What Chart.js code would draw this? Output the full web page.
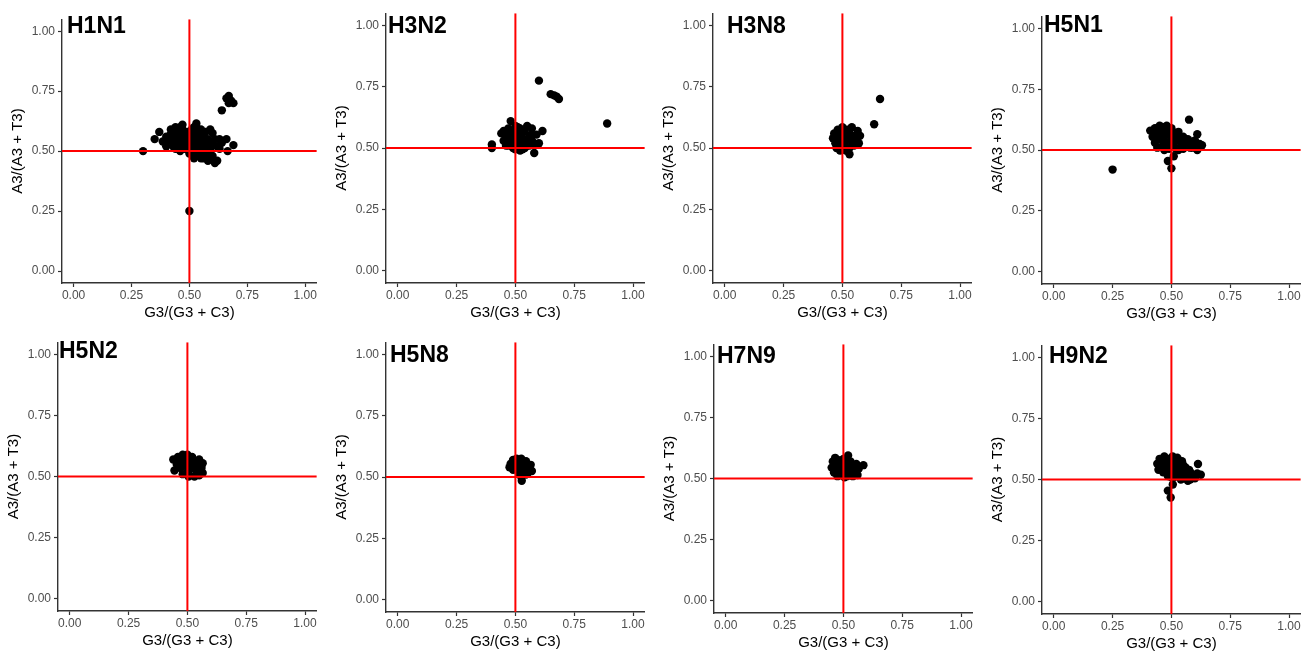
<!DOCTYPE html>
<html>
<head>
<meta charset="utf-8">
<script src="https://cdn.jsdelivr.net/npm/chart.js@4.4.0/dist/chart.umd.min.js"></script>
<style>
  body { margin: 0; background: #fff; width: 1314px; height: 653px; position: relative; overflow: hidden; }
  canvas { position: absolute; }
</style>
</head>
<body>
<script>
const subtypes = ['H1N1', 'H3N2', 'H3N8', 'H5N1', 'H5N2', 'H5N8', 'H7N9', 'H9N2'];

// [G3/(G3+C3), A3/(A3+T3)]
const h1n1 = [
  [0.30,0.50],[0.35,0.55],[0.37,0.58],[0.385,0.54],[0.40,0.52],[0.40,0.56],[0.41,0.545],[0.42,0.57],
  [0.43,0.54],[0.43,0.565],[0.44,0.58],[0.44,0.51],[0.45,0.55],[0.45,0.52],[0.46,0.60],[0.46,0.50],
  [0.47,0.57],[0.47,0.53],[0.48,0.55],[0.48,0.51],[0.49,0.58],[0.49,0.54],[0.50,0.56],[0.50,0.52],
  [0.50,0.49],[0.51,0.59],[0.51,0.54],[0.52,0.50],[0.52,0.57],[0.52,0.47],[0.53,0.60],[0.53,0.55],
  [0.53,0.52],[0.54,0.48],[0.54,0.57],[0.55,0.53],[0.55,0.50],[0.55,0.59],[0.56,0.56],[0.56,0.47],
  [0.57,0.52],[0.57,0.49],[0.57,0.58],[0.58,0.55],[0.58,0.46],[0.59,0.51],[0.59,0.59],[0.60,0.53],
  [0.60,0.48],[0.61,0.45],[0.62,0.52],[0.62,0.46],[0.63,0.55],[0.66,0.55],[0.69,0.525],[0.665,0.50],
  [0.42,0.59],[0.44,0.60],[0.46,0.565],[0.47,0.59],[0.48,0.53],[0.49,0.56],[0.49,0.51],[0.51,0.57],
  [0.51,0.50],[0.52,0.54],[0.52,0.60],[0.53,0.58],[0.54,0.51],[0.54,0.55],[0.55,0.47],[0.56,0.51],
  [0.56,0.58],[0.57,0.55],[0.58,0.52],[0.58,0.49],[0.59,0.47],[0.61,0.55],[0.60,0.575],[0.47,0.61],
  [0.53,0.615],[0.64,0.535],[0.63,0.51],[0.43,0.52],[0.45,0.585],[0.41,0.56],
  [0.50,0.25],[0.64,0.67],[0.66,0.72],[0.67,0.73],[0.68,0.71],[0.69,0.70],[0.67,0.70]
];
const h3n2 = [
  [0.40,0.515],[0.40,0.50],[0.44,0.56],[0.45,0.53],[0.45,0.57],[0.46,0.54],[0.46,0.51],[0.47,0.58],
  [0.47,0.55],[0.47,0.51],[0.48,0.52],[0.48,0.61],[0.49,0.57],[0.49,0.50],[0.50,0.54],[0.50,0.59],
  [0.50,0.495],[0.51,0.52],[0.51,0.56],[0.52,0.49],[0.52,0.58],[0.53,0.54],[0.53,0.51],[0.53,0.495],
  [0.54,0.57],[0.54,0.50],[0.55,0.53],[0.55,0.59],[0.56,0.55],[0.56,0.51],[0.57,0.58],[0.57,0.53],
  [0.58,0.52],[0.58,0.48],[0.59,0.555],[0.60,0.52],[0.615,0.57],
  [0.46,0.565],[0.48,0.545],[0.49,0.525],[0.51,0.585],[0.52,0.55],[0.54,0.535],[0.55,0.51],[0.57,0.555],
  [0.60,0.775],[0.65,0.72],[0.665,0.715],[0.675,0.71],[0.685,0.70],[0.89,0.60]
];
const h3n8 = [
  [0.46,0.54],[0.465,0.56],[0.47,0.52],[0.475,0.50],[0.48,0.575],[0.48,0.545],[0.49,0.51],[0.49,0.56],
  [0.49,0.49],[0.50,0.585],[0.50,0.53],[0.50,0.50],[0.51,0.555],[0.51,0.515],[0.515,0.49],[0.52,0.575],
  [0.52,0.54],[0.53,0.50],[0.53,0.56],[0.53,0.475],[0.54,0.525],[0.54,0.585],[0.55,0.55],[0.55,0.51],
  [0.56,0.535],[0.565,0.57],[0.57,0.52],[0.575,0.55],
  [0.635,0.597],[0.66,0.70]
];
const h5n1 = [
  [0.41,0.58],[0.42,0.555],[0.43,0.59],[0.43,0.53],[0.44,0.57],[0.44,0.51],[0.45,0.545],[0.45,0.60],
  [0.46,0.515],[0.46,0.58],[0.47,0.555],[0.47,0.50],[0.48,0.60],[0.48,0.53],[0.49,0.57],[0.49,0.505],
  [0.50,0.55],[0.50,0.59],[0.51,0.52],[0.51,0.57],[0.52,0.545],[0.52,0.505],[0.53,0.575],[0.53,0.50],
  [0.54,0.53],[0.55,0.555],[0.55,0.505],[0.56,0.52],[0.57,0.545],[0.58,0.51],[0.59,0.535],[0.60,0.52],
  [0.61,0.50],[0.61,0.565],[0.62,0.525],[0.63,0.52],
  [0.425,0.575],[0.44,0.59],[0.455,0.565],[0.465,0.535],[0.475,0.58],[0.495,0.53],[0.505,0.575],[0.515,0.545],
  [0.535,0.555],[0.545,0.51],[0.565,0.535],[0.575,0.52],[0.59,0.51],[0.60,0.54],[0.46,0.595],
  [0.25,0.42],[0.575,0.625],[0.485,0.455],[0.50,0.425],[0.51,0.475]
];
const h5n2 = [
  [0.44,0.57],[0.445,0.525],[0.455,0.55],[0.46,0.58],[0.47,0.535],[0.47,0.56],[0.48,0.59],[0.48,0.51],
  [0.49,0.545],[0.49,0.575],[0.495,0.56],[0.50,0.52],[0.50,0.59],[0.505,0.50],[0.51,0.555],[0.51,0.505],
  [0.52,0.58],[0.52,0.535],[0.53,0.50],[0.53,0.56],[0.54,0.545],[0.54,0.52],[0.55,0.57],[0.55,0.505],
  [0.56,0.535],[0.565,0.555],[0.565,0.515]
];
const h5n8 = [
  [0.475,0.54],[0.48,0.555],[0.49,0.57],[0.49,0.53],[0.50,0.555],[0.505,0.575],[0.51,0.535],[0.515,0.515],
  [0.52,0.56],[0.525,0.575],[0.53,0.54],[0.53,0.52],[0.535,0.555],[0.54,0.53],[0.545,0.565],[0.55,0.545],
  [0.555,0.52],[0.56,0.535],[0.565,0.55],[0.57,0.525],[0.525,0.50],[0.527,0.485],[0.545,0.51]
];
const h7n9 = [
  [0.45,0.545],[0.455,0.57],[0.46,0.525],[0.465,0.585],[0.47,0.555],[0.475,0.51],[0.48,0.535],[0.48,0.575],
  [0.49,0.515],[0.49,0.55],[0.50,0.58],[0.50,0.53],[0.505,0.505],[0.51,0.56],[0.515,0.51],[0.52,0.595],
  [0.52,0.545],[0.53,0.525],[0.53,0.57],[0.54,0.55],[0.54,0.51],[0.55,0.535],[0.555,0.56],[0.56,0.515],
  [0.565,0.54],[0.585,0.555]
];
const h9n2 = [
  [0.44,0.565],[0.445,0.54],[0.45,0.585],[0.46,0.555],[0.465,0.53],[0.47,0.595],[0.475,0.57],[0.48,0.545],
  [0.485,0.515],[0.49,0.585],[0.495,0.56],[0.50,0.535],[0.50,0.51],[0.505,0.595],[0.51,0.51],[0.515,0.57],
  [0.52,0.545],[0.525,0.59],[0.53,0.52],[0.535,0.56],[0.545,0.575],[0.545,0.535],[0.54,0.50],[0.55,0.505],
  [0.56,0.55],[0.565,0.52],[0.575,0.54],[0.57,0.495],[0.58,0.50],[0.59,0.52],[0.60,0.505],[0.61,0.525],
  [0.455,0.57],[0.47,0.545],[0.485,0.575],[0.49,0.535],[0.505,0.555],[0.52,0.52],[0.525,0.565],[0.535,0.545],
  [0.55,0.56],[0.555,0.53],[0.58,0.53],[0.595,0.51],[0.53,0.58],[0.56,0.505],
  [0.485,0.455],[0.497,0.427],[0.506,0.48],[0.613,0.564],[0.625,0.52]
];
const panelData = [h1n1, h3n2, h3n8, h5n1, h5n2, h5n8, h7n9, h9n2];

const tickValues = [0, 0.25, 0.5, 0.75, 1];
const axisMin = -0.05;
const axisMax = 1.05;
const cutoff = 0.5;
const xTitle = 'G3/(G3 + C3)';
const yTitle = 'A3/(A3 + T3)';

// page frames: axis x, plot top, plot right, plot bottom, tag x, tag baseline
const frames = [
  [62, 15, 318, 283, 67, 33],
  [386, 9, 646, 283, 388, 33],
  [713, 9, 973, 283, 727, 33],
  [1042, 12, 1302, 284, 1044, 32],
  [58, 338, 318, 611, 59, 358],
  [386, 338, 646, 612, 390, 362],
  [714, 340, 974, 613, 717, 363],
  [1042, 341, 1302, 614, 1049, 363]
];

const Y_W = 62, X_H = 42, PAD_T = 6, PAD_R = 3;
const FONT = 'Arial, "Liberation Sans", sans-serif';

const tagPlugin = {
  id: 'panelTag',
  afterDraw(chart, args, opts) {
    const ctx = chart.ctx;
    ctx.save();
    ctx.font = 'bold 23px ' + FONT;
    ctx.fillStyle = '#000';
    ctx.textBaseline = 'alphabetic';
    ctx.fillText(opts.text, opts.x, opts.y);
    ctx.restore();
  }
};

function axisOpts(title, isX) {
  return {
    type: 'linear',
    min: axisMin,
    max: axisMax,
    afterBuildTicks: s => { s.ticks = tickValues.map(v => ({ value: v })); },
    afterFit: s => { if (isX) s.height = X_H; else s.width = Y_W; },
    ticks: {
      callback: v => Number(v).toFixed(2),
      color: '#4d4d4d',
      font: { family: FONT, size: 12 },
      padding: isX ? 1 : 3,
      maxRotation: 0,
      autoSkip: false
    },
    grid: { display: true, drawOnChartArea: false, drawTicks: true, tickLength: 4, tickColor: '#333', tickWidth: 1.2 },
    border: { display: true, color: '#333', width: 1.4 },
    title: {
      display: true,
      text: title,
      color: '#000',
      font: { family: FONT, size: 15 },
      padding: isX ? { top: 0, bottom: 3 } : { top: 9, bottom: 0 }
    }
  };
}

subtypes.forEach((name, i) => {
  const [ax, top, right, bottom, tx, ty] = frames[i];
  const left = ax - Y_W;
  const ctop = top - PAD_T;
  const w = right - left + PAD_R;
  const h = bottom + X_H - ctop;

  const canvas = document.createElement('canvas');
  canvas.width = w;
  canvas.height = h;
  canvas.style.left = left + 'px';
  canvas.style.top = ctop + 'px';
  canvas.style.width = w + 'px';
  canvas.style.height = h + 'px';
  document.body.appendChild(canvas);

  new Chart(canvas.getContext('2d'), {
    type: 'scatter',
    data: {
      datasets: [
        {
          data: [{ x: cutoff, y: axisMin }, { x: cutoff, y: axisMax }],
          showLine: true, borderColor: '#ff0000', borderWidth: 2, pointRadius: 0, order: 0
        },
        {
          data: [{ x: axisMin, y: cutoff }, { x: axisMax, y: cutoff }],
          showLine: true, borderColor: '#ff0000', borderWidth: 2, pointRadius: 0, order: 0
        },
        {
          data: panelData[i].map(([x, y]) => ({ x, y })),
          backgroundColor: '#000', borderWidth: 0, pointRadius: 4.2, order: 1
        }
      ]
    },
    options: {
      responsive: false,
      animation: false,
      events: [],
      layout: { padding: { top: PAD_T, right: PAD_R, left: 0, bottom: 0 } },
      scales: { x: axisOpts(xTitle, true), y: axisOpts(yTitle, false) },
      plugins: {
        legend: { display: false },
        tooltip: { enabled: false },
        panelTag: { text: name, x: tx - left, y: ty - ctop }
      }
    },
    plugins: [tagPlugin]
  });
});
</script>
</body>
</html>
